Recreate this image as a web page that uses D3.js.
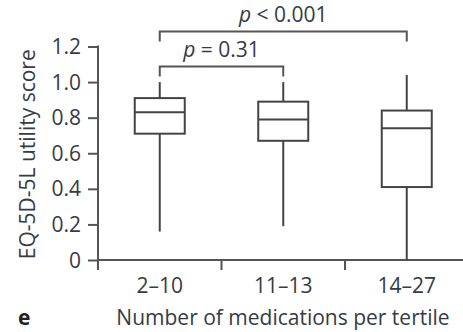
<!DOCTYPE html>
<html>
<head>
<meta charset="utf-8">
<script src="https://cdn.jsdelivr.net/npm/d3@7"></script>
<style>
  html, body { margin: 0; padding: 0; background: #fff; }
  svg text { font-family: "Open Sans", "Noto Sans", sans-serif; fill: #363b46; }
</style>
</head>
<body>
<svg id="chart" width="463" height="332"></svg>
<script>
// Tertiles of medication count
const categories = ["2\u201310", "11\u201313", "14\u201327"];
// Box-plot summary per tertile (EQ-5D-5L utility)
const whiskerLow  = [0.16, 0.19, 0.00];
const quartile1   = [0.71, 0.67, 0.41];
const medians     = [0.83, 0.79, 0.74];
const quartile3   = [0.91, 0.89, 0.84];
const whiskerHigh = [1.00, 1.00, 1.04];
const yTicks = [0, 0.2, 0.4, 0.6, 0.8, 1.0, 1.2];
const yTickLabels = ["0", "0.2", "0.4", "0.6", "0.8", "1.0", "1.2"];
// Pairwise comparisons shown as brackets
const comparisons = [
  { from: 0, to: 1, op: "=", value: "0.31" },
  { from: 0, to: 2, op: "<", value: "0.001" }
];

const svg = d3.select("#chart");
const lineColor = "#555";
const fontSize = 21;

const x = d3.scaleBand().domain(categories).range([98, 468.5]).padding(0);
const y = d3.scaleLinear().domain([0, 1.2]).range([260, 46.5]);
const boxW = 50;

// Axes
const yAxis = d3.axisLeft(y).tickValues(yTicks)
  .tickFormat((d, i) => yTickLabels[i]).tickSize(10).tickPadding(7).tickSizeOuter(0);
const gy = svg.append("g").attr("transform", "translate(98,0)").call(yAxis);
gy.select(".domain").remove();
gy.selectAll(".tick line").attr("stroke", lineColor).attr("stroke-width", 2);
gy.selectAll(".tick text").attr("font-size", fontSize).attr("dy", "0.34em");
gy.attr("font-family", null);

// y-axis line, extended slightly below zero
svg.append("line").attr("x1", 98).attr("x2", 98)
  .attr("y1", y(1.2) - 1).attr("y2", y(0) + 10)
  .attr("stroke", lineColor).attr("stroke-width", 2);

// x-axis line and category boundary ticks
svg.append("line").attr("x1", 98).attr("x2", x.range()[1])
  .attr("y1", y(0)).attr("y2", y(0))
  .attr("stroke", lineColor).attr("stroke-width", 2);
categories.forEach(c => {
  const bx = x(c) + x.bandwidth();
  svg.append("line").attr("x1", bx).attr("x2", bx)
    .attr("y1", y(0)).attr("y2", y(0) + 10)
    .attr("stroke", lineColor).attr("stroke-width", 2);
});

svg.selectAll("text.xlab").data(categories).join("text")
  .attr("class", "xlab")
  .attr("x", d => x(d) + x.bandwidth() / 2)
  .attr("y", 293)
  .attr("text-anchor", "middle")
  .attr("font-size", fontSize)
  .text(d => d);

// Axis titles and panel letter
svg.append("text")
  .attr("transform", `translate(35,${(y(0) + y(1.2)) / 2 + 1}) rotate(-90)`)
  .attr("text-anchor", "middle")
  .attr("font-size", fontSize)
  .text("EQ-5D-5L utility score");

svg.append("text")
  .attr("x", 283).attr("y", 325)
  .attr("text-anchor", "middle")
  .attr("font-size", fontSize)
  .text("Number of medications per tertile");

svg.append("text")
  .attr("x", 18).attr("y", 325)
  .attr("font-size", fontSize)
  .attr("font-weight", "bold")
  .style("fill", "#222")
  .text("e");

// Box plots
const boxes = svg.append("g").attr("stroke", "#444").attr("stroke-width", 2).attr("fill", "none");
categories.forEach((c, i) => {
  const cx = x(c) + x.bandwidth() / 2;
  const g = boxes.append("g");
  g.append("line").attr("x1", cx).attr("x2", cx)
    .attr("y1", y(whiskerHigh[i])).attr("y2", y(quartile3[i]));
  g.append("line").attr("x1", cx).attr("x2", cx)
    .attr("y1", y(quartile1[i])).attr("y2", y(whiskerLow[i]));
  g.append("rect")
    .attr("x", cx - boxW / 2).attr("width", boxW)
    .attr("y", y(quartile3[i])).attr("height", y(quartile1[i]) - y(quartile3[i]))
    .attr("fill", "#fff");
  g.append("line").attr("x1", cx - boxW / 2).attr("x2", cx + boxW / 2)
    .attr("y1", y(medians[i])).attr("y2", y(medians[i]));
});

// Significance brackets
const bracketY = [66.5, 31.5];
const labelY = [57, 22];
comparisons.forEach((cmp, k) => {
  const x1 = x(categories[cmp.from]) + x.bandwidth() / 2;
  const x2 = x(categories[cmp.to]) + x.bandwidth() / 2;
  const by = bracketY[k];
  svg.append("path")
    .attr("d", `M${x1},${by + 10}V${by}H${x2}V${by + 10}`)
    .attr("fill", "none").attr("stroke", lineColor).attr("stroke-width", 2);
  const t = svg.append("text")
    .attr("x", (x1 + x2) / 2).attr("y", labelY[k])
    .attr("text-anchor", "middle")
    .attr("font-size", fontSize);
  t.append("tspan").attr("font-style", "italic").text("p");
  t.append("tspan").text(` ${cmp.op} ${cmp.value}`);
});
</script>
</body>
</html>
